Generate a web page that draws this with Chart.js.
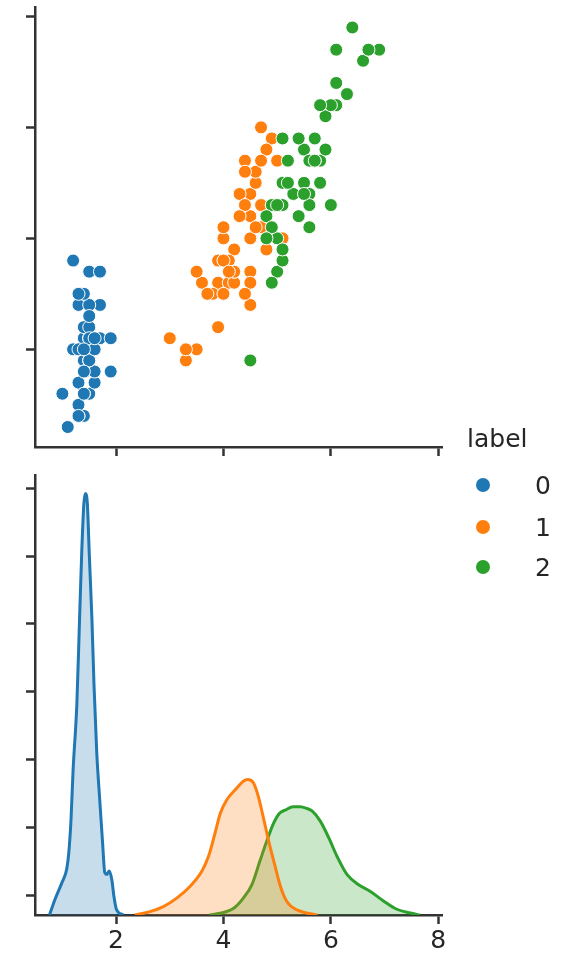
<!DOCTYPE html>
<html><head><meta charset="utf-8">
<script src="https://cdn.jsdelivr.net/npm/chart.js@4.4.0/dist/chart.umd.min.js"></script>
<style>
html,body{margin:0;padding:0;background:#fff;}
#wrap{position:relative;width:579px;height:959px;overflow:hidden;font-family:'DejaVu Sans',sans-serif;color:#262626;}
canvas{position:absolute;left:0;}
.lg{position:absolute;font-size:25px;line-height:25px;white-space:nowrap;}
.dot{position:absolute;width:14px;height:14px;border-radius:50%;}
</style></head><body>
<div id="wrap">
<canvas id="topc" width="579" height="470" style="top:0px"></canvas>
<canvas id="botc" width="579" height="489" style="top:470px"></canvas>
</div>
<script>
// ---- data ----
const labels = ['0','1','2'];
const colors = ['#1f77b4','#ff7f0e','#2ca02c'];
const fills  = ['rgba(31,119,180,0.25)','rgba(255,127,14,0.25)','rgba(44,160,44,0.25)'];

const petalLength0 = [1.4,1.4,1.3,1.5,1.4,1.7,1.4,1.5,1.4,1.5,1.5,1.6,1.4,1.1,1.2,1.5,1.3,1.4,1.7,1.5,1.7,1.5,1.0,1.7,1.9,1.6,1.6,1.5,1.4,1.6,1.6,1.5,1.5,1.4,1.5,1.2,1.3,1.5,1.3,1.5,1.3,1.3,1.3,1.6,1.9,1.4,1.6,1.4,1.5,1.4];
const sepalLength0 = [5.1,4.9,4.7,4.6,5.0,5.4,4.6,5.0,4.4,4.9,5.4,4.8,4.8,4.3,5.8,5.7,5.4,5.1,5.7,5.1,5.4,5.1,4.6,5.1,4.8,5.0,5.0,5.2,5.2,4.7,4.8,5.4,5.2,5.5,4.9,5.0,5.5,4.9,4.4,5.1,5.0,4.5,4.4,5.0,5.1,4.8,5.1,4.6,5.3,5.0];
const petalLength1 = [4.7,4.5,4.9,4.0,4.6,4.5,4.7,3.3,4.6,3.9,3.5,4.2,4.0,4.7,3.6,4.4,4.5,4.1,4.5,3.9,4.8,4.0,4.9,4.7,4.3,4.4,4.8,5.0,4.5,3.5,3.8,3.7,3.9,5.1,4.5,4.5,4.7,4.4,4.1,4.0,4.4,4.6,4.0,3.3,4.2,4.2,4.2,4.3,3.0,4.1];
const sepalLength1 = [7.0,6.4,6.9,5.5,6.5,5.7,6.3,4.9,6.6,5.2,5.0,5.9,6.0,6.1,5.6,6.7,5.6,5.8,6.2,5.6,5.9,6.1,6.3,6.1,6.4,6.6,6.8,6.7,6.0,5.7,5.5,5.5,5.8,6.0,5.4,6.0,6.7,6.3,5.6,5.5,5.5,6.1,5.8,5.0,5.6,5.7,5.7,6.2,5.1,5.7];
const petalLength2 = [6.0,5.1,5.9,5.6,5.8,6.6,4.5,6.3,5.8,6.1,5.1,5.3,5.5,5.0,5.1,5.3,5.5,6.7,6.9,5.0,5.7,4.9,6.7,4.9,5.7,6.0,4.8,4.9,5.6,5.8,6.1,6.4,5.6,5.1,5.6,6.1,5.6,5.5,4.8,5.4,5.6,5.1,5.1,5.9,5.7,5.2,5.0,5.2,5.4,5.1];
const sepalLength2 = [6.3,5.8,7.1,6.3,6.5,7.6,4.9,7.3,6.7,7.2,6.5,6.4,6.8,5.7,5.8,6.4,6.5,7.7,7.7,6.0,6.9,5.6,7.7,6.3,6.7,7.2,6.2,6.1,6.4,7.2,7.4,7.9,6.4,6.3,6.1,7.7,6.3,6.4,6.0,6.9,6.7,6.9,5.8,6.8,6.7,6.7,6.3,6.5,6.2,5.9];

// density curves
const kdeX0 = [0.76,0.86,0.99,1.08,1.12,1.16,1.20,1.27,1.32,1.36,1.40,1.43,1.465,1.50,1.55,1.59,1.64,1.70,1.75,1.79,1.83,1.87,1.92,1.96,2.01,2.14];
const kdeY0 = [0,0.09,0.19,0.27,0.37,0.56,0.86,1.25,1.75,2.14,2.43,2.49,2.43,2.14,1.75,1.35,0.96,0.66,0.42,0.25,0.24,0.26,0.21,0.11,0.03,0];
const kdeX1 = [2.35,2.63,2.88,3.13,3.38,3.60,3.72,3.84,3.94,4.06,4.22,4.37,4.45,4.56,4.65,4.74,4.84,4.96,5.06,5.18,5.37,5.75];
const kdeY1 = [0,0.02,0.05,0.10,0.17,0.26,0.345,0.48,0.60,0.68,0.74,0.79,0.80,0.78,0.70,0.58,0.44,0.29,0.17,0.08,0.03,0];
const kdeX2 = [3.74,3.94,4.19,4.37,4.53,4.68,4.81,4.93,5.04,5.15,5.30,5.43,5.55,5.65,5.80,5.96,6.11,6.30,6.51,6.73,6.98,7.23,7.48,7.66];
const kdeY2 = [0,0.01,0.04,0.10,0.18,0.32,0.44,0.54,0.60,0.62,0.64,0.64,0.63,0.615,0.556,0.457,0.35,0.24,0.18,0.14,0.083,0.034,0.012,0];

const xTicks = [2,4,6,8];
const xTickLabels = ['2','4','6','8'];
const topYTicks = [5,6,7,8];
const botYTicks = [1,2,3,4,5,6,7];

// ---- styling ----
const AX = '#333333';
const FONT = "'DejaVu Sans', sans-serif";
Chart.defaults.font.family = FONT;
Chart.defaults.color = '#262626';

function axisOpts(extra){
  return Object.assign({
    type:'linear',
    grid:{display:true,drawOnChartArea:false,drawTicks:true,tickLength:9,tickColor:AX,tickWidth:2.5},
    border:{display:true,color:AX,width:2.5},
    ticks:{display:false}
  }, extra);
}
const setTicks = arr => (s => { s.ticks = arr.map(v => ({value:v})); });

const xs = [petalLength0, petalLength1, petalLength2];
const ys = [sepalLength0, sepalLength1, sepalLength2];

new Chart(document.getElementById('topc'), {
  type:'scatter',
  data:{datasets: labels.map((l,i)=>({
    label:l,
    data: xs[i].map((x,j)=>({x:x, y:ys[i][j]})),
    backgroundColor: colors[i],
    borderColor:'#ffffff',
    pointRadius:6.5, pointBorderWidth:1, pointHoverRadius:6.5,
    order: 3 - i
  }))},
  options:{
    responsive:false, animation:false, devicePixelRatio:1,
    layout:{padding:{top:7,right:137,left:0,bottom:0}},
    plugins:{legend:{display:false},tooltip:{enabled:false}},
    scales:{
      x: axisOpts({min:0.49,max:8.07,afterBuildTicks:setTicks(xTicks),afterFit:s=>{s.height=23;}}),
      y: axisOpts({min:4.12,max:8.08,afterBuildTicks:setTicks(topYTicks),afterFit:s=>{s.width=35;}})
    }
  }
});

const kx = [kdeX0,kdeX1,kdeX2], ky = [kdeY0,kdeY1,kdeY2];
new Chart(document.getElementById('botc'), {
  type:'line',
  data:{datasets: labels.map((l,i)=>({
    label:l,
    data: kx[i].map((x,j)=>({x:x, y:ky[i][j]})),
    borderColor: colors[i], backgroundColor: fills[i],
    borderWidth:3, pointRadius:0, fill:'origin',
    cubicInterpolationMode:'monotone',
    yAxisID:'yd', xAxisID:'x'
  }))},
  options:{
    responsive:false, animation:false, devicePixelRatio:1,
    layout:{padding:{top:5,right:137,left:0,bottom:0}},
    plugins:{legend:{display:false},tooltip:{enabled:false}},
    scales:{
      x: axisOpts({min:0.49,max:8.07,afterBuildTicks:setTicks(xTicks),
           ticks:{display:true,padding:2,color:'#262626',font:{size:25,family:FONT},
                  maxRotation:0,autoSkip:false,callback:(v,i)=>xTickLabels[i]},
           afterFit:s=>{s.height=44;}}),
      y: axisOpts({position:'left',min:0.705,max:7.195,afterBuildTicks:setTicks(botYTicks),afterFit:s=>{s.width=35;}}),
      yd:{type:'linear',display:false,min:0,max:2.6}
    }
  }
});

// ---- legend (HTML text) ----
const wrap = document.getElementById('wrap');
const title = document.createElement('div');
title.className='lg'; title.style.left='467px'; title.style.top='426px'; title.textContent='label';
wrap.appendChild(title);
const legY = [485,527,567];
labels.forEach((l,i)=>{
  const d=document.createElement('div'); d.className='dot';
  d.style.background=colors[i]; d.style.left='476px'; d.style.top=(legY[i]-7)+'px';
  wrap.appendChild(d);
  const t=document.createElement('div'); t.className='lg';
  t.style.left='535px'; t.style.top=(legY[i]-12)+'px'; t.textContent=l;
  wrap.appendChild(t);
});
</script>
</body></html>
